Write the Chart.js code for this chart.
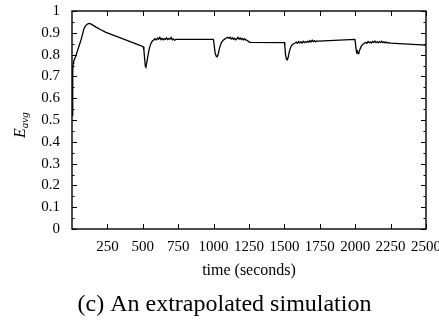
<!DOCTYPE html>
<html>
<head>
<meta charset="utf-8">
<script src="https://cdn.jsdelivr.net/npm/chart.js@4"></script>
<style>
  html, body { margin: 0; padding: 0; background: #fff; }
  #wrap { width: 439px; height: 320px; }
</style>
</head>
<body>
<div id="wrap"><canvas id="canvas"></canvas></div>
<script>
// time (seconds) and E_avg
const times = [
  2, 4, 6, 8, 12, 18, 25, 35, 45, 55, 65, 75, 85, 95, 105, 115, 125, 135, 150, 170, 200, 240, 300, 360, 420, 480, 503,
  508, 513, 518, 522, 527, 535, 545, 555, 565, 575,
  585, 595, 605, 612, 620, 628, 636, 644, 652, 660, 668, 676, 684, 692, 700, 708, 716, 725, 735, 745, 998,
  1003, 1010, 1018, 1025, 1032, 1042, 1055, 1068, 1080, 1090, 1100, 1108, 1116, 1124, 1132, 1140, 1148, 1156, 1164,
  1172, 1180, 1188, 1196, 1204, 1212, 1220, 1230, 1240, 1250, 1260, 1500,
  1503, 1508, 1514, 1520, 1526, 1535, 1545, 1555, 1565, 1575, 1585, 1593, 1601, 1609, 1617, 1625, 1633, 1641, 1649,
  1657, 1665, 1673, 1681, 1689, 1697, 1705, 1713, 1721, 1730, 1740, 1998,
  2002, 2006, 2010, 2015, 2020, 2026, 2034, 2044, 2055, 2065, 2075, 2083, 2091, 2099, 2107, 2115, 2123, 2131, 2139,
  2147, 2155, 2163, 2171, 2179, 2187, 2195, 2203, 2211, 2220, 2230, 2240, 2250, 2500
];
const eavg = [
  0.52, 0.62, 0.72, 0.76, 0.77, 0.78, 0.79, 0.81, 0.83, 0.85, 0.87, 0.895, 0.92, 0.932, 0.938, 0.942, 0.943, 0.940, 0.934, 0.926, 0.915, 0.902, 0.887, 0.872, 0.857, 0.842, 0.836,
  0.82, 0.78, 0.745, 0.742, 0.76, 0.79, 0.825, 0.848, 0.86, 0.866,
  0.872, 0.868, 0.876, 0.871, 0.879, 0.869, 0.874, 0.868, 0.873, 0.870, 0.877, 0.869, 0.874, 0.871, 0.878, 0.868, 0.872, 0.866, 0.870, 0.870, 0.870,
  0.85, 0.81, 0.793, 0.79, 0.80, 0.83, 0.855, 0.866, 0.872, 0.876, 0.879, 0.875, 0.880, 0.872, 0.877, 0.870, 0.875, 0.868, 0.873,
  0.879, 0.871, 0.876, 0.869, 0.874, 0.868, 0.872, 0.866, 0.864, 0.858, 0.856, 0.855,
  0.84, 0.80, 0.78, 0.776, 0.785, 0.815, 0.835, 0.845, 0.85, 0.853, 0.857, 0.852, 0.860, 0.854, 0.858, 0.853, 0.861, 0.855, 0.859,
  0.856, 0.862, 0.857, 0.864, 0.858, 0.866, 0.860, 0.864, 0.858, 0.863, 0.862, 0.870,
  0.85, 0.825, 0.81, 0.815, 0.805, 0.81, 0.825, 0.84, 0.848, 0.852, 0.856, 0.852, 0.860, 0.855, 0.858, 0.853, 0.860, 0.856, 0.862,
  0.855, 0.859, 0.854, 0.860, 0.856, 0.861, 0.855, 0.859, 0.854, 0.858, 0.853, 0.855, 0.853, 0.843
];
const xTicks = [250, 500, 750, 1000, 1250, 1500, 1750, 2000, 2250, 2500];
const yTicks = [0, 0.1, 0.2, 0.3, 0.4, 0.5, 0.6, 0.7, 0.8, 0.9, 1];
const yMinorTicks = [0.05, 0.15, 0.25, 0.35, 0.45, 0.55, 0.65, 0.75, 0.85, 0.95];

const serif = '"Liberation Serif", "Times New Roman", serif';

// frame with inward ticks on all four sides, plus the E_avg label
const framePlugin = {
  id: 'frame',
  afterDraw(chart) {
    const { ctx, chartArea: a, scales: { x, y } } = chart;
    ctx.save();
    ctx.strokeStyle = '#000';
    ctx.lineWidth = 1.4;
    ctx.strokeRect(a.left, a.top, a.right - a.left, a.bottom - a.top);

    ctx.lineWidth = 1;
    ctx.beginPath();
    xTicks.forEach(v => {
      const px = Math.round(x.getPixelForValue(v)) + 0.5;
      ctx.moveTo(px, a.bottom); ctx.lineTo(px, a.bottom - 5);
      ctx.moveTo(px, a.top); ctx.lineTo(px, a.top + 5);
    });
    yTicks.forEach(v => {
      const py = Math.round(y.getPixelForValue(v)) + 0.5;
      ctx.moveTo(a.left, py); ctx.lineTo(a.left + 5, py);
      ctx.moveTo(a.right, py); ctx.lineTo(a.right - 5, py);
    });
    yMinorTicks.forEach(v => {
      const py = Math.round(y.getPixelForValue(v)) + 0.5;
      ctx.moveTo(a.left, py); ctx.lineTo(a.left + 2.5, py);
      ctx.moveTo(a.right, py); ctx.lineTo(a.right - 2.5, py);
    });
    ctx.stroke();

    // y axis title: E with subscript avg
    ctx.translate(25, 138);
    ctx.rotate(-Math.PI / 2);
    ctx.fillStyle = '#000';
    ctx.textBaseline = 'alphabetic';
    ctx.textAlign = 'left';
    ctx.font = 'italic 16px ' + serif;
    ctx.fillText('E', 0, 0);
    const w = ctx.measureText('E').width;
    ctx.font = 'italic 11px ' + serif;
    ctx.fillText('avg', w, 3);
    ctx.restore();
  }
};

function noPad(s) {
  s.paddingTop = 0; s.paddingBottom = 0; s.paddingLeft = 0; s.paddingRight = 0;
}

new Chart(document.getElementById('canvas'), {
  type: 'line',
  data: {
    datasets: [{
      data: times.map((t, i) => ({ x: t, y: eavg[i] })),
      borderColor: '#000',
      borderWidth: 1.3,
      pointRadius: 0,
      tension: 0,
      fill: false
    }]
  },
  options: {
    responsive: true,
    maintainAspectRatio: false,
    animation: false,
    events: [],
    layout: { autoPadding: false, padding: { top: 11, right: 13, bottom: 0, left: 23 } },
    plugins: {
      legend: { display: false },
      tooltip: { enabled: false },
      title: {
        display: true,
        position: 'bottom',
        text: '(c) An extrapolated simulation',
        color: '#000',
        font: { family: serif, size: 24, weight: 'normal', lineHeight: 1.1 },
        padding: { top: 11.4, bottom: 1.8 }
      }
    },
    scales: {
      x: {
        type: 'linear',
        min: 0,
        max: 2500,
        afterFit(s) { s.height = 51.4; noPad(s); },
        afterBuildTicks(s) { s.ticks = xTicks.map(v => ({ value: v })); },
        grid: { display: false, drawTicks: false },
        border: { display: false },
        ticks: {
          color: '#000',
          padding: 9,
          maxRotation: 0,
          autoSkip: false,
          font: { family: serif, size: 15 },
          callback: v => String(v)
        },
        title: {
          display: true,
          text: 'time (seconds)',
          color: '#000',
          font: { family: serif, size: 16, lineHeight: 1.2 },
          padding: { top: 0, bottom: 0 }
        }
      },
      y: {
        min: 0,
        max: 1,
        afterFit(s) { s.width = 49; noPad(s); },
        afterBuildTicks(s) { s.ticks = yTicks.map(v => ({ value: v })); },
        grid: { display: false, drawTicks: false },
        border: { display: false },
        ticks: {
          color: '#000',
          padding: 12,
          font: { family: serif, size: 15 },
          callback: v => String(Math.round(v * 10) / 10)
        }
      }
    }
  },
  plugins: [framePlugin]
});
</script>
</body>
</html>
